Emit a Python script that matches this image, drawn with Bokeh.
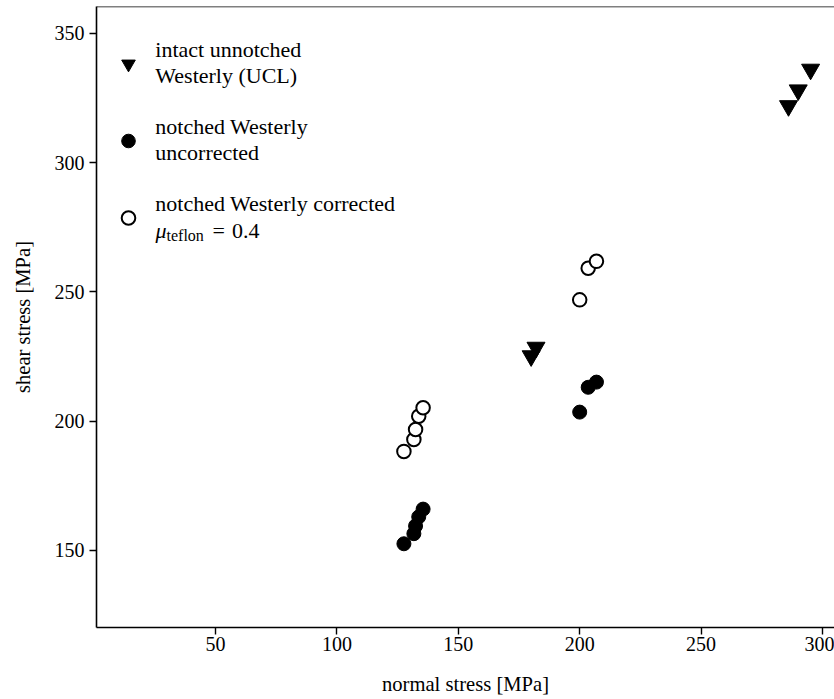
from bokeh.plotting import figure
from bokeh.models import Range1d, Legend, LegendItem, Label, Span, FixedTicker
from bokeh.embed import file_html
from bokeh.resources import INLINE

# ---- data ----
intact_x = [180.0, 182.0, 286.0, 290.0, 295.1]
intact_y = [225.2, 228.5, 321.9, 328.0, 336.0]

notched_x = [127.6, 131.7, 132.4, 133.7, 135.5, 200.0, 203.5, 206.9]
uncorrected_y = [152.6, 156.5, 159.5, 163.0, 166.0, 203.5, 213.1, 215.1]
corrected_y = [188.3, 192.9, 196.8, 201.9, 205.2, 246.9, 259.1, 261.8]

x_ticks = [50, 100, 150, 200, 250, 300]
y_ticks = [150, 200, 250, 300, 350]

legend_labels = [
    "intact unnotched\nWesterly (UCL)",
    "notched Westerly\nuncorrected",
    "notched Westerly corrected\n\u00a0",
]

FONT = "Liberation Serif"
FS = "20px"
AFS = "20.6px"
LFS = "22px"

p = figure(width=834, height=699,
           x_range=Range1d(0.99, 304.94), y_range=Range1d(120.23, 360.32),
           output_backend="svg", toolbar_location=None,
           min_border_left=96, min_border_right=0, min_border_top=6, min_border_bottom=72)
p.outline_line_color = None
p.xgrid.visible = False
p.ygrid.visible = False
p.background_fill_color = "white"
p.border_fill_color = "white"

for ax in (p.xaxis[0], p.yaxis[0]):
    ax.axis_line_width = 1.6
    ax.axis_line_color = "black"
    ax.major_tick_line_width = 1.4
    ax.major_tick_line_color = "black"
    ax.major_tick_in = 0
    ax.major_tick_out = 7
    ax.minor_tick_line_color = None
    ax.major_label_text_font = FONT
    ax.major_label_text_font_size = FS
    ax.major_label_text_color = "black"
    ax.axis_label_text_font = FONT
    ax.axis_label_text_font_size = AFS
    ax.axis_label_text_font_style = "normal"
    ax.axis_label_text_color = "black"
    ax.major_label_standoff = 5

p.xaxis[0].ticker = FixedTicker(ticks=x_ticks)
p.yaxis[0].ticker = FixedTicker(ticks=y_ticks)
p.xaxis[0].axis_label = "normal stress [MPa]"
p.yaxis[0].axis_label = "shear stress [MPa]"
p.xaxis[0].major_label_standoff = 2
p.xaxis[0].axis_label_standoff = 19
p.yaxis[0].axis_label_standoff = 18

# top border of the frame
p.add_layout(Span(location=p.y_range.end, dimension="width", line_color="black", line_width=1.6))

r1 = p.scatter(intact_x, intact_y, marker="inverted_triangle", size=18,
               fill_color="black", line_color="black", line_width=1)
r2 = p.scatter(notched_x, uncorrected_y, marker="circle", size=14,
               fill_color="black", line_color="black", line_width=1)
r3 = p.scatter(notched_x, corrected_y, marker="circle", size=13.5,
               fill_color="white", line_color="black", line_width=2)

legend = Legend(items=[LegendItem(label=legend_labels[0], renderers=[r1]),
                       LegendItem(label=legend_labels[1], renderers=[r2]),
                       LegendItem(label=legend_labels[2], renderers=[r3])],
                location=(15.3, 384), margin=0, padding=0, spacing=25,
                glyph_width=34, glyph_height=51, label_standoff=10,
                label_text_font=FONT, label_text_font_size=LFS,
                label_text_color="black",
                border_line_color=None, background_fill_alpha=0)
p.add_layout(legend)

# mu_teflon = 0.4 line of the third legend entry
def mlabel(x, y, text, size, style="normal"):
    p.add_layout(Label(x=x, y=y, x_units="screen", y_units="screen", text=text,
                       text_font=FONT, text_font_size=size, text_font_style=style,
                       text_baseline="alphabetic", text_color="black"))

mlabel(59, 397, "\u03bc", LFS, "italic")
mlabel(70, 392.5, "teflon", "16px")
mlabel(116, 397, "=", LFS)
mlabel(135.5, 397, "0.4", LFS)

open("out.html", "w").write(file_html(p, INLINE))
